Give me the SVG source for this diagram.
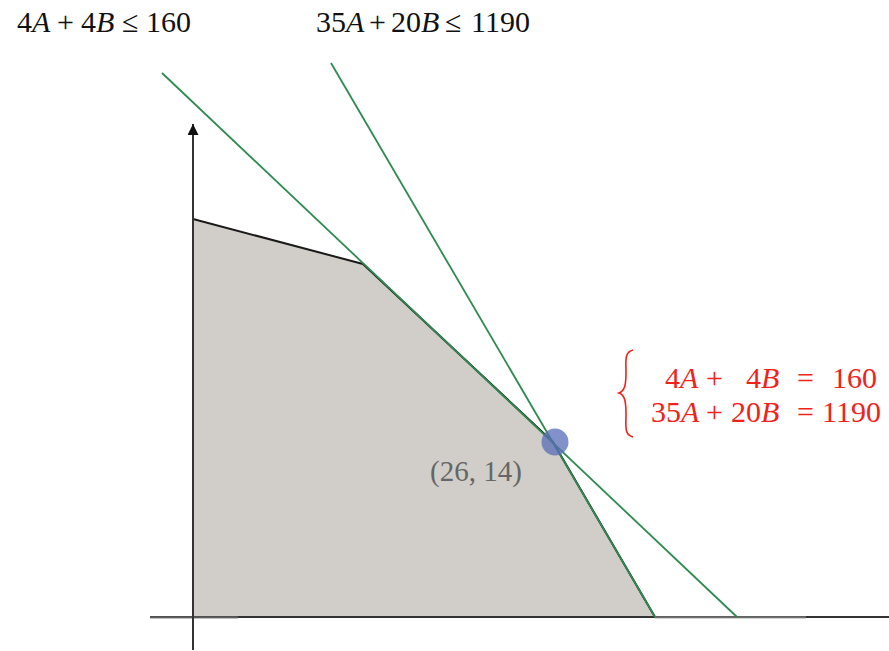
<svg xmlns="http://www.w3.org/2000/svg" width="889" height="651" viewBox="0 0 889 651">
<style>
.gl{stroke:#2e8b50;stroke-width:1.8;fill:none}
.ax{stroke:#333;stroke-width:2;fill:none}
</style>
<defs>
<marker id="arr" viewBox="0 0 10 10" refX="10" refY="5" markerWidth="11" markerHeight="11" markerUnits="userSpaceOnUse" orient="auto">
<path d="M0,0 L10,5 L0,10 Z" fill="#111"/>
</marker>
</defs>
<rect width="889" height="651" fill="#fff"/>
<g id="region">
<polygon points="193,219 363,264 553,442 655,617 193,617" fill="#d1cec9" stroke="#1a1a1a" stroke-width="2" stroke-linejoin="round"/>
</g>
<g id="axes">
<line class="ax" x1="150" y1="617" x2="889" y2="617"/>
<line x1="150" y1="617.5" x2="238" y2="617.5" stroke="#777" stroke-width="2.5" opacity="0.6"/>
<line x1="655" y1="617.5" x2="806" y2="617.5" stroke="#999" stroke-width="2.5" opacity="0.6"/>
<line class="ax" x1="193" y1="650" x2="193" y2="124" marker-end="url(#arr)"/>
</g>
<g id="connectors">
<line class="gl" x1="162" y1="73" x2="737" y2="617"/>
<line class="gl" x1="331" y1="63" x2="655" y2="617"/>
</g>
<g id="point">
<circle cx="555" cy="442" r="13.5" fill="#5a6cb8" opacity="0.75"/>
<text x="476" y="481" text-anchor="middle" font-family="Liberation Serif, Times New Roman, serif" font-size="29" fill="#666">(26, 14)</text>
</g>
<g id="label1">
<text font-family="Liberation Serif, Times New Roman, serif" font-size="30" fill="#111" y="32"><tspan x="17">4</tspan><tspan font-style="italic">A</tspan><tspan x="57">+</tspan><tspan x="81">4</tspan><tspan font-style="italic">B</tspan><tspan x="122">≤</tspan><tspan x="146">160</tspan></text>
</g>
<g id="label2">
<text font-family="Liberation Serif, Times New Roman, serif" font-size="30" fill="#111" y="32"><tspan x="316">35</tspan><tspan font-style="italic">A</tspan><tspan x="369">+</tspan><tspan x="391">20</tspan><tspan font-style="italic">B</tspan><tspan x="445">≤</tspan><tspan x="471">1190</tspan></text>
</g>
<g id="system">
<path d="M633,350 C624,352 626,362 626,372 C626,384 625,391 619,393 C625,395 626,402 626,414 C626,426 624,435 633,437" fill="none" stroke="#f0221a" stroke-width="1.6"/>
<text font-family="Liberation Serif, Times New Roman, serif" font-size="30" fill="#f0221a" y="388"><tspan x="665">4</tspan><tspan font-style="italic">A</tspan><tspan x="706">+</tspan><tspan x="746">4</tspan><tspan font-style="italic">B</tspan><tspan x="797">=</tspan><tspan x="832">160</tspan></text>
<text font-family="Liberation Serif, Times New Roman, serif" font-size="30" fill="#f0221a" y="422"><tspan x="651">35</tspan><tspan font-style="italic">A</tspan><tspan x="706">+</tspan><tspan x="731">20</tspan><tspan font-style="italic">B</tspan><tspan x="797">=</tspan><tspan x="822">1190</tspan></text>
</g>
</svg>
